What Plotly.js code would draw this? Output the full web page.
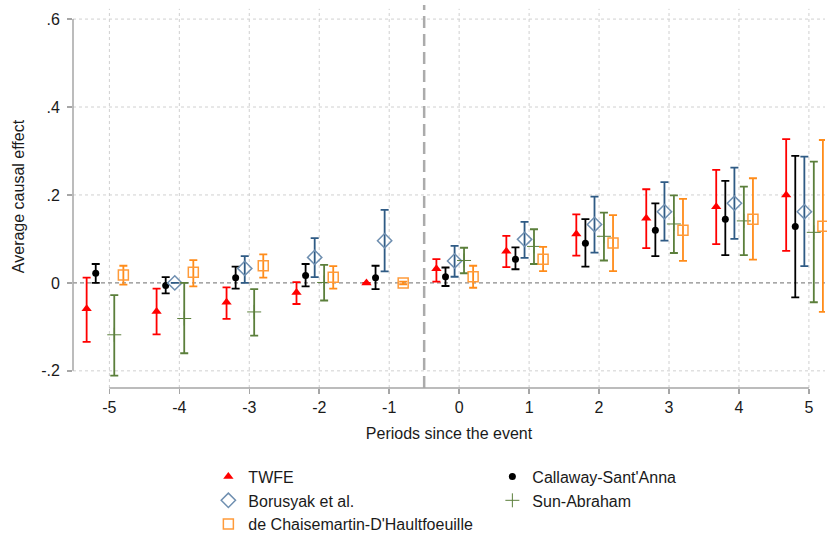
<!DOCTYPE html>
<html>
<head>
<meta charset="utf-8">
<script src="https://cdn.plot.ly/plotly-3.0.1.min.js"></script>
<style>html,body{margin:0;padding:0;background:#fff;}#chart{width:827px;height:538px;}</style>
</head>
<body>
<div id="chart"></div>
<script>
const periods = [-5,-4,-3,-2,-1,0,1,2,3,4,5];

const twfe_est = [-0.059,-0.065,-0.044,-0.022,0.000,0.032,0.072,0.111,0.147,0.173,0.200];
const twfe_hi  = [ 0.012,-0.013,-0.010, 0.002,0.000,0.054,0.107,0.156,0.213,0.257,0.327];
const twfe_lo  = [-0.134,-0.117,-0.082,-0.048,0.000,0.003,0.036,0.062,0.079,0.088,0.073];

const cs_est = [0.022,-0.006,0.012,0.017,0.012,0.014,0.054,0.090,0.120,0.145,0.128];
const cs_hi  = [0.043, 0.013,0.037,0.043,0.039,0.035,0.081,0.145,0.181,0.232,0.289];
const cs_lo  = [0.000,-0.024,-0.013,-0.008,-0.014,-0.007,0.031,0.037,0.061,0.063,-0.033];

const bjs_est = [null,0.000,0.033,0.058,0.096,0.050,0.099,0.133,0.162,0.181,0.162];
const bjs_hi  = [null,0.000,0.061,0.102,0.166,0.084,0.139,0.196,0.229,0.262,0.287];
const bjs_lo  = [null,0.000,0.000,0.013,0.026,0.014,0.057,0.069,0.096,0.100,0.038];

const sa_est = [-0.118,-0.081,-0.066, 0.001,null,0.051,0.083,0.106,0.134,0.141, 0.115];
const sa_hi  = [-0.028, 0.000,-0.014, 0.041,null,0.080,0.122,0.160,0.199,0.219, 0.276];
const sa_lo  = [-0.211,-0.160,-0.120,-0.040,null,0.022,0.043,0.051,0.068,0.063,-0.044];

const dcdh_est = [ 0.018, 0.024,0.039, 0.013, 0.000, 0.014,0.054,0.091,0.120,0.145, 0.129];
const dcdh_hi  = [ 0.039, 0.052,0.065, 0.038, 0.003, 0.039,0.082,0.154,0.191,0.238, 0.325];
const dcdh_lo  = [-0.004,-0.008,0.012,-0.013,-0.003,-0.011,0.027,0.027,0.050,0.053,-0.066];

const yTickVals = [-0.2, 0, 0.2, 0.4, 0.6];
const yTickText = ['-.2', '0', '.2', '.4', '.6'];
const xTickVals = [-5,-4,-3,-2,-1,0,1,2,3,4,5];
const xTickText = ['-5','-4','-3','-2','-1','0','1','2','3','4','5'];

const series = [
  {name:'TWFE', est:twfe_est, hi:twfe_hi, lo:twfe_lo, off:-0.325, color:'#ff0000',
   marker:{symbol:'triangle-up', size:9, color:'#ff0000'}},
  {name:'Callaway-Sant\'Anna', est:cs_est, hi:cs_hi, lo:cs_lo, off:-0.195, color:'#000000',
   marker:{symbol:'circle', size:7, color:'#000000'}},
  {name:'Borusyak et al.', est:bjs_est, hi:bjs_hi, lo:bjs_lo, off:-0.065, color:'#2f5b85',
   marker:{symbol:'diamond-open', size:11, color:'#6f8fb0', line:{width:1.5, color:'#6f8fb0'}}},
  {name:'Sun-Abraham', est:sa_est, hi:sa_hi, lo:sa_lo, off:0.07, color:'#5b7f3b',
   marker:{symbol:'cross-thin', size:10, color:'#5b7f3b', line:{width:1, color:'#5b7f3b'}}},
  {name:'de Chaisemartin-D\'Haultfoeuille', est:dcdh_est, hi:dcdh_hi, lo:dcdh_lo, off:0.2, color:'#ff8c1a',
   marker:{symbol:'square-open', size:10, color:'#ff9b3a', line:{width:1.5, color:'#ff9b3a'}}}
];

const traces = series.map(s => ({
  type:'scatter', mode:'markers', name:s.name,
  x: periods.map(p => p + s.off),
  y: s.est,
  marker: s.marker,
  error_y: {
    type:'data', symmetric:false,
    array: s.est.map((v,i) => v === null ? null : s.hi[i] - v),
    arrayminus: s.est.map((v,i) => v === null ? null : v - s.lo[i]),
    color: s.color, thickness: 1.8, width: 4
  },
  cliponaxis:false
}));

const gridColor = '#d0d0d0';
const shapes = [
  ...[-0.2,0.2,0.4,0.6].map(v => ({type:'line', xref:'paper', x0:0, x1:1, yref:'y', y0:v, y1:v,
    line:{color:gridColor, width:1, dash:'dot'}, layer:'below'})),
  ...xTickVals.map(v => ({type:'line', xref:'x', x0:v, x1:v, yref:'paper', y0:0, y1:0.99,
    line:{color:gridColor, width:1, dash:'dot'}, layer:'below'})),
  {type:'line', xref:'paper', x0:0, x1:1, yref:'y', y0:0, y1:0, line:{color:'#8a8a8a', width:1.3, dash:'4px,3px'}, layer:'below'},
  {type:'line', xref:'x', x0:-0.5, x1:-0.5, yref:'paper', y0:0, y1:1, line:{color:'#ababab', width:2.5, dash:'12px,6px'}, layer:'below'},
  {type:'line', xref:'paper', x0:0, x1:0, yref:'y', y0:-0.2, y1:0.6, line:{color:'#a6a6a6', width:1.5}},
  {type:'line', xref:'x', x0:-5, x1:5, yref:'paper', y0:0, y1:0, line:{color:'#a6a6a6', width:1.5}}
];

const font = {family:'"Liberation Sans", Arial, sans-serif', size:16, color:'#1a1a1a'};

const layout = {
  width:827, height:538,
  margin:{l:73, r:2, t:5, b:150, autoexpand:false},
  paper_bgcolor:'#ffffff', plot_bgcolor:'#ffffff',
  font: font,
  showlegend:true,
  xaxis:{
    range:[-5.52, 5.23], showgrid:false, zeroline:false, showline:false,
    tickvals:xTickVals, ticktext:xTickText, ticks:'outside', ticklen:5, tickcolor:'#a6a6a6', tickwidth:1.5,
    tickfont:{size:16, color:'#1a1a1a'},
    title:{text:'Periods since the event', font:{size:16, color:'#1a1a1a'}, standoff:12}
  },
  yaxis:{
    range:[-0.239, 0.632], showgrid:false, zeroline:false, showline:false,
    tickvals:yTickVals, ticktext:yTickText, ticks:'outside', ticklen:5, tickcolor:'#a6a6a6', tickwidth:1.5,
    ticklabelstandoff:4,
    tickfont:{size:16, color:'#1a1a1a'},
    title:{text:'Average causal effect', font:{size:16, color:'#1a1a1a'}, standoff:12}
  },
  legend:{
    orientation:'h', x:0.18, xanchor:'left', y:-0.187, yanchor:'top',
    entrywidth:239, entrywidthmode:'pixels',
    font:{size:16, color:'#1a1a1a'}, bgcolor:'rgba(0,0,0,0)', traceorder:'normal'
  },
  shapes: shapes
};

Plotly.newPlot('chart', traces, layout, {displayModeBar:false, staticPlot:true});
</script>
</body>
</html>
